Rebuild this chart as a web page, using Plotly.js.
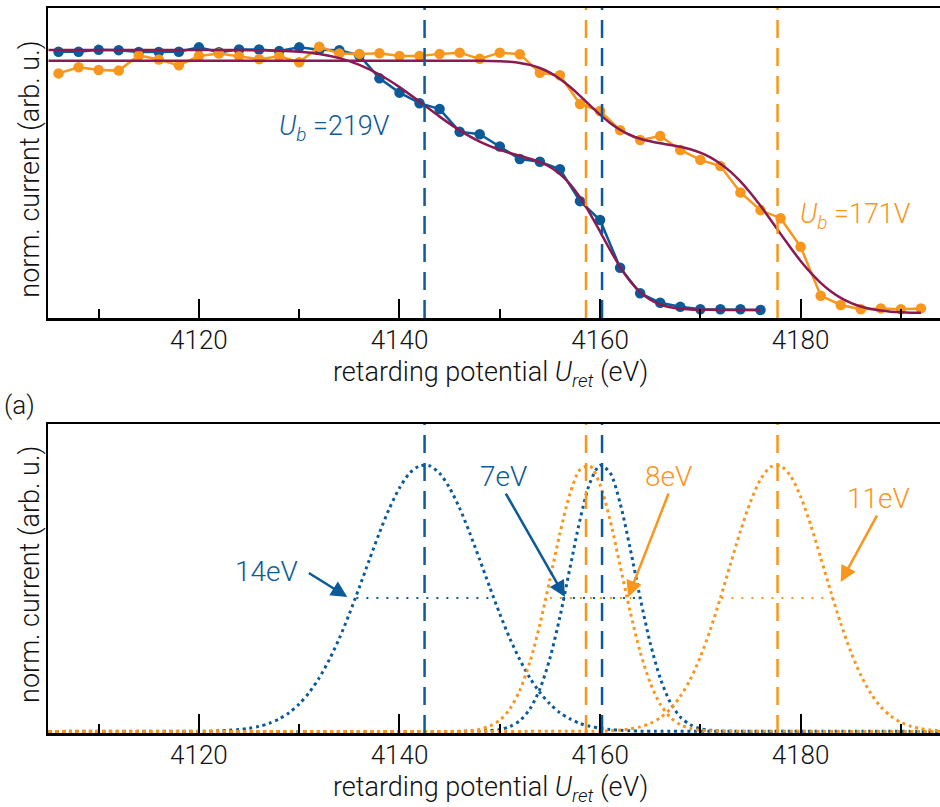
<!DOCTYPE html>
<html>
<head>
<meta charset="utf-8">
<script src="https://cdn.plot.ly/plotly-3.0.1.min.js"></script>
<style>html,body{margin:0;padding:0;background:#fff;}#chart{width:940px;height:807px;}</style>
</head>
<body>
<div id="chart"></div>
<script>
// ---------- Top panel: measured retarding curves ----------
const blueX = [4106,4108,4110,4112,4114,4116,4118,4120,4122,4124,4126,4128,4130,4132,4134,4136,4138,4140,4142,4144,4146,4148,4150,4152,4154,4156,4158,4160,4162,4164,4166,4168,4170,4172,4174,4176];
const blueY = [0.859,0.859,0.865,0.864,0.858,0.858,0.859,0.873,0.857,0.866,0.866,0.861,0.873,0.865,0.864,0.847,0.773,0.727,0.693,0.674,0.601,0.593,0.553,0.513,0.504,0.480,0.377,0.316,0.162,0.080,0.049,0.036,0.028,0.028,0.028,0.026];

const orangeX = [4106,4108,4110,4112,4114,4116,4118,4120,4122,4124,4126,4128,4130,4132,4134,4136,4138,4140,4142,4144,4146,4148,4150,4152,4154,4156,4158,4160,4162,4164,4166,4168,4170,4172,4174,4176,4178,4180,4182,4184,4186,4188,4190,4192];
const orangeY = [0.789,0.809,0.800,0.798,0.847,0.834,0.815,0.845,0.853,0.844,0.835,0.844,0.825,0.875,0.853,0.852,0.854,0.845,0.845,0.852,0.856,0.836,0.856,0.851,0.791,0.783,0.690,0.668,0.606,0.574,0.587,0.542,0.510,0.490,0.405,0.348,0.322,0.230,0.072,0.042,0.028,0.031,0.028,0.031];

// fitted curves
const blueFitX = [4105,4110,4115,4120,4124,4126,4128,4130,4132,4134,4136,4138,4140,4142,4144,4146,4148,4150,4151,4152,4153,4154,4155,4156,4157,4158,4159,4160,4161,4162,4163,4164,4165,4166,4167,4168,4169,4170,4172,4174,4176];
const blueFitY = [0.8645,0.8645,0.8645,0.8645,0.8642,0.8636,0.8621,0.8586,0.8514,0.8383,0.8167,0.7854,0.7448,0.6979,0.6496,0.6054,0.5692,0.5425,0.5322,0.5231,0.5139,0.5027,0.4871,0.4642,0.4320,0.3893,0.3371,0.2789,0.2197,0.1650,0.1188,0.0836,0.0590,0.0435,0.0345,0.0298,0.0275,0.0266,0.0260,0.0260,0.0260];

const orangeFitX = [4105,4120,4140,4146,4148,4150,4151,4152,4153,4154,4155,4156,4157,4158,4159,4160,4161,4162,4163,4164,4165,4166,4167,4168,4169,4170,4171,4172,4173,4174,4175,4176,4177,4178,4179,4180,4181,4182,4183,4184,4185,4186,4187,4188,4189,4190,4191,4192];
const orangeFitY = [0.830,0.830,0.830,0.830,0.8297,0.8284,0.8265,0.8229,0.8166,0.8065,0.7915,0.7712,0.7459,0.7167,0.6859,0.6560,0.6293,0.6072,0.5903,0.5783,0.5700,0.5637,0.5584,0.5524,0.5444,0.5334,0.5182,0.4979,0.4721,0.4404,0.4034,0.3618,0.3172,0.2714,0.2265,0.1841,0.1461,0.1133,0.0863,0.0649,0.0488,0.0372,0.0292,0.0239,0.0205,0.0185,0.0173,0.0167];

// bias voltage edge positions (dashed lines)
const blueCenters = [4142.5, 4160.2];
const orangeCenters = [4158.6, 4177.7];

// ---------- Bottom panel: derived distributions ----------
const gBlue1X = [4105,4120,4121,4122,4123,4124,4125,4126,4127,4128,4129,4130,4131,4132,4133,4134,4135,4136,4137,4138,4139,4140,4141,4142,4143,4144,4145,4146,4147,4148,4149,4150,4151,4152,4153,4154,4155,4156,4157,4158,4159,4160,4161,4162,4163,4164,4165,4194];
const gBlue1Y = [0,0.001,0.001,0.002,0.004,0.007,0.012,0.019,0.030,0.047,0.070,0.103,0.146,0.201,0.269,0.349,0.441,0.541,0.644,0.745,0.837,0.913,0.968,0.996,0.996,0.968,0.913,0.837,0.745,0.644,0.541,0.441,0.349,0.269,0.201,0.146,0.103,0.070,0.047,0.030,0.019,0.012,0.007,0.004,0.002,0.001,0.001,0];

const gBlue2X = [4105,4148,4149,4150,4151,4152,4153,4154,4155,4156,4157,4158,4159,4160,4161,4162,4163,4164,4165,4166,4167,4168,4169,4170,4171,4172,4194];
const gBlue2Y = [0,0.001,0.003,0.007,0.018,0.040,0.084,0.159,0.274,0.430,0.613,0.793,0.933,0.998,0.970,0.856,0.687,0.501,0.332,0.200,0.109,0.054,0.025,0.010,0.004,0.001,0];

const gOrange1X = [4105,4145,4146,4147,4148,4149,4150,4151,4152,4153,4154,4155,4156,4157,4158,4159,4160,4161,4162,4163,4164,4165,4166,4167,4168,4169,4170,4171,4172,4194];
const gOrange1Y = [0,0.000,0.001,0.003,0.008,0.020,0.042,0.084,0.154,0.260,0.401,0.570,0.743,0.891,0.982,0.995,0.926,0.792,0.622,0.450,0.298,0.182,0.102,0.053,0.025,0.011,0.004,0.002,0.001,0];

const gOrange2X = [4105,4160,4161,4162,4163,4164,4165,4166,4167,4168,4169,4170,4171,4172,4173,4174,4175,4176,4177,4178,4179,4180,4181,4182,4183,4184,4185,4186,4187,4188,4189,4190,4191,4192,4193,4194];
const gOrange2Y = [0,0.001,0.002,0.005,0.009,0.017,0.030,0.051,0.084,0.131,0.195,0.279,0.382,0.500,0.627,0.751,0.861,0.945,0.992,0.996,0.958,0.881,0.775,0.652,0.525,0.405,0.299,0.211,0.142,0.092,0.057,0.034,0.019,0.010,0.005,0.003];

// FWHM markers (half-maximum segments)
const fwhmBlueLeft = [4135.7, 4156.3];
const fwhmBlueRight = [4149.4, 4163.9];
const fwhmOrangeLeft = [4155.0, 4172.1];
const fwhmOrangeRight = [4163.1, 4183.3];
const halfLevel = 0.5;
const fwhmLabels = ['14eV', '7eV', '8eV', '11eV'];
const biasLabels = ['219V', '171V'];

// ---------- styling ----------
const BLUE = '#0b5a9a';
const ORANGE = '#f9961c';
const MAROON = '#8b1a52';
const FONT = 'Roboto, "Liberation Sans", Arial, sans-serif';

const traces = [
  {x: blueX, y: blueY, xaxis:'x', yaxis:'y', mode:'lines+markers', line:{color:BLUE, width:2.5}, marker:{color:BLUE, size:10.5}},
  {x: orangeX, y: orangeY, xaxis:'x', yaxis:'y', mode:'lines+markers', line:{color:ORANGE, width:2.5}, marker:{color:ORANGE, size:10.5}},
  {x: blueFitX, y: blueFitY, xaxis:'x', yaxis:'y', mode:'lines', line:{color:MAROON, width:2.5, shape:'spline', smoothing:0.6}},
  {x: orangeFitX, y: orangeFitY, xaxis:'x', yaxis:'y', mode:'lines', line:{color:MAROON, width:2.5, shape:'spline', smoothing:0.6}},
  {x: gBlue1X, y: gBlue1Y, xaxis:'x2', yaxis:'y2', mode:'lines', line:{color:BLUE, width:3, dash:'3px,3.7px', shape:'spline', smoothing:0.8}},
  {x: gBlue2X, y: gBlue2Y, xaxis:'x2', yaxis:'y2', mode:'lines', line:{color:BLUE, width:3, dash:'3px,3.7px', shape:'spline', smoothing:0.8}},
  {x: gOrange1X, y: gOrange1Y, xaxis:'x2', yaxis:'y2', mode:'lines', line:{color:ORANGE, width:3, dash:'3px,3.7px', shape:'spline', smoothing:0.8}},
  {x: gOrange2X, y: gOrange2Y, xaxis:'x2', yaxis:'y2', mode:'lines', line:{color:ORANGE, width:3, dash:'3px,3.7px', shape:'spline', smoothing:0.8}}
];
for (let i = 0; i < fwhmBlueLeft.length; i++) {
  traces.push({x:[fwhmBlueLeft[i], fwhmBlueRight[i]], y:[halfLevel, halfLevel], xaxis:'x2', yaxis:'y2', mode:'lines', line:{color:BLUE, width:2, dash:'2px,8px'}});
}
for (let i = 0; i < fwhmOrangeLeft.length; i++) {
  traces.push({x:[fwhmOrangeLeft[i], fwhmOrangeRight[i]], y:[halfLevel, halfLevel], xaxis:'x2', yaxis:'y2', mode:'lines', line:{color:ORANGE, width:2, dash:'2px,8px'}});
}

const shapes = [];
function vline(c, color, xr, yr) {
  shapes.push({type:'line', xref:xr, yref:yr + ' domain', x0:c, x1:c, y0:0, y1:1, line:{color:color, width:2.5, dash:'18px,10px'}});
}
blueCenters.forEach(c => { vline(c, BLUE, 'x', 'y'); vline(c, BLUE, 'x2', 'y2'); });
orangeCenters.forEach(c => { vline(c, ORANGE, 'x', 'y'); vline(c, ORANGE, 'x2', 'y2'); });

const xTitle = 'retarding potential <i>U</i><sub><i>ret</i></sub> (eV)';
function xaxisDef(anchor) {
  return {
    anchor: anchor, domain:[0,1], range:[4104.95, 4193.9],
    showline:true, linecolor:'#000', linewidth:2.5, mirror:true,
    ticks:'inside', ticklen:19, tickwidth:2, tickcolor:'#000', dtick:20, tick0:4120,
    ticklabelstandoff:-3,
    minor:{dtick:10, ticks:'inside', ticklen:9, tickwidth:2, tickcolor:'#000'},
    tickfont:{family:FONT, size:26, color:'#111', weight:300},
    showgrid:false, zeroline:false
  };
}
function yaxisDef(anchor, dom, rng) {
  return {anchor:anchor, domain:dom, range:rng, showline:true, linecolor:'#000', linewidth:2.5,
    ticks:'', showticklabels:false, showgrid:false, zeroline:false};
}

const annFont = (c, s) => ({family:FONT, size:s, color:c, weight:300});
const annotations = [
  {xref:'paper', yref:'paper', x:0.496, y:0.4952, xanchor:'center', yanchor:'middle', text:xTitle, showarrow:false, font:annFont('#111', 27)},
  {xref:'paper', yref:'paper', x:0.496, y:-0.0772, xanchor:'center', yanchor:'middle', text:xTitle, showarrow:false, font:annFont('#111', 27)},
  {xref:'paper', yref:'paper', x:0, y:0.777, xshift:-18, xanchor:'center', yanchor:'middle', textangle:-90,
   text:'norm. current (arb. u.)', showarrow:false, font:annFont('#111', 27)},
  {xref:'paper', yref:'paper', x:0, y:0.218, xshift:-18, xanchor:'center', yanchor:'middle', textangle:-90,
   text:'norm. current (arb. u.)', showarrow:false, font:annFont('#111', 27)},
  {xref:'paper', yref:'paper', x:-0.0516, y:0.452, xanchor:'left', yanchor:'middle', text:'(a)', showarrow:false, font:annFont('#111', 26)},
  {xref:'x', yref:'y', x:4127.8, y:0.613, xanchor:'left', yanchor:'middle', text:'<i>U</i><sub><i>b</i></sub> =' + biasLabels[0], showarrow:false, font:annFont(BLUE, 27)},
  {xref:'x', yref:'y', x:4179.75, y:0.329, xanchor:'left', yanchor:'middle', text:'<i>U</i><sub><i>b</i></sub> =' + biasLabels[1], showarrow:false, font:annFont(ORANGE, 27)},
  // FWHM labels
  {xref:'x2', yref:'y2', x:4123.4, y:0.599, xanchor:'left', yanchor:'middle', text:fwhmLabels[0], showarrow:false, font:annFont(BLUE, 28)},
  {xref:'x2', yref:'y2', x:4147.8, y:0.957, xanchor:'left', yanchor:'middle', text:fwhmLabels[1], showarrow:false, font:annFont(BLUE, 28)},
  {xref:'x2', yref:'y2', x:4164.3, y:0.957, xanchor:'left', yanchor:'middle', text:fwhmLabels[2], showarrow:false, font:annFont(ORANGE, 28)},
  {xref:'x2', yref:'y2', x:4184.4, y:0.873, xanchor:'left', yanchor:'middle', text:fwhmLabels[3], showarrow:false, font:annFont(ORANGE, 28)},
  // arrows
  {xref:'x2', yref:'y2', x:4134.8, y:0.504, ax:-40, ay:-25, text:'', showarrow:true, arrowhead:2, arrowsize:1.3, arrowwidth:2.5, arrowcolor:BLUE, standoff:0},
  {xref:'x2', yref:'y2', x:4156.5, y:0.504, ax:-60, ay:-105, text:'', showarrow:true, arrowhead:2, arrowsize:1.3, arrowwidth:2.5, arrowcolor:BLUE, standoff:0},
  {xref:'x2', yref:'y2', x:4162.8, y:0.504, ax:41, ay:-105, text:'', showarrow:true, arrowhead:2, arrowsize:1.3, arrowwidth:2.5, arrowcolor:ORANGE, standoff:0},
  {xref:'x2', yref:'y2', x:4184.0, y:0.560, ax:37, ay:-68, text:'', showarrow:true, arrowhead:2, arrowsize:1.3, arrowwidth:2.5, arrowcolor:ORANGE, standoff:0}
];

const layout = {
  width:940, height:807,
  margin:{l:48, r:0, t:8, b:74},
  paper_bgcolor:'#fff', plot_bgcolor:'#fff',
  showlegend:false,
  font:{family:FONT, size:25, color:'#111', weight:300},
  xaxis: xaxisDef('y'),
  yaxis: yaxisDef('x', [0.5724, 1], [0, 1]),
  xaxis2: xaxisDef('y2'),
  yaxis2: yaxisDef('x2', [0, 0.4262], [-0.006, 1.153]),
  shapes: shapes,
  annotations: annotations
};

Plotly.newPlot('chart', traces, layout, {staticPlot:true, displayModeBar:false});
</script>
</body>
</html>
